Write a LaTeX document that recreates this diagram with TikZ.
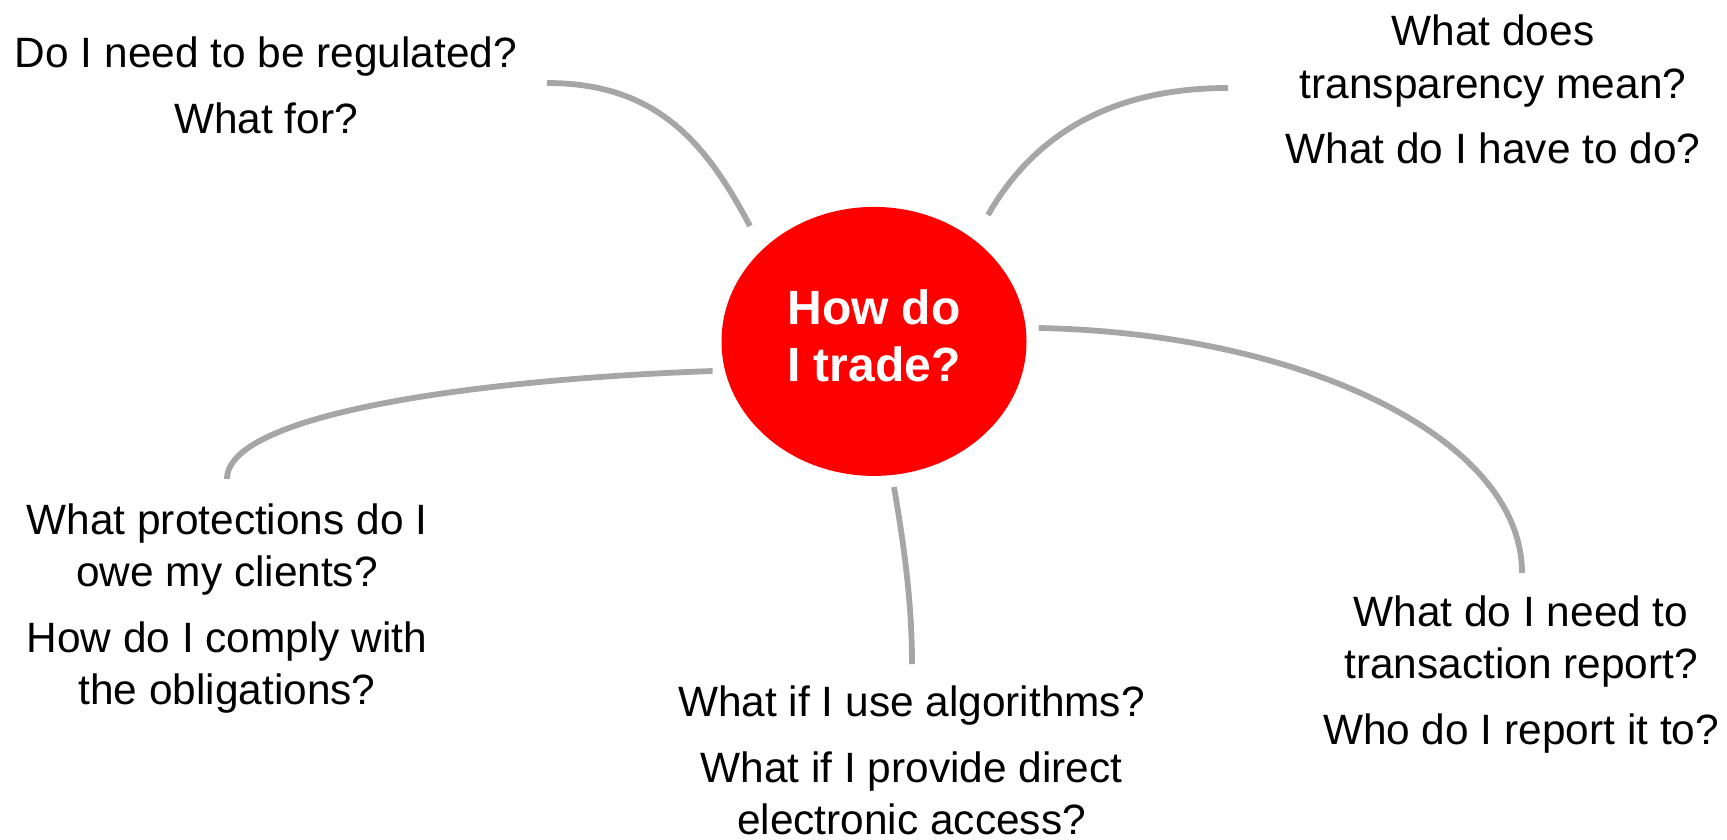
\documentclass[tikz,border=0pt]{standalone}
\usepackage{fontspec}
\setmainfont{Liberation Sans}
\usetikzlibrary{shapes.geometric}
\definecolor{hubred}{RGB}{255,0,0}
\definecolor{linkgray}{RGB}{166,166,166}
\begin{document}
\begin{tikzpicture}[x=1pt,y=-1pt,
  q/.style={font=\fontsize{42.4}{52}\selectfont, align=center, inner sep=0pt, text=black},
  hubnode/.style={ellipse, fill=hubred, minimum width=305pt, minimum height=269pt,
    inner sep=0pt, text=white, font=\fontsize{48}{57}\selectfont\bfseries, align=center},
  link/.style={draw=linkgray, line width=5.8pt, line cap=butt}]
\useasboundingbox (0,0) rectangle (1727,840);

% hub
\node[hubnode] (hub) at (874,341.4) {\strut How do\\\strut I trade?};

% question groups
\node[q] (tl) at (266,90.1) {\strut Do I need to be regulated?\\[14pt]\strut What for?};
\node[q] (tr) at (1493,94.6) {\strut What does\\\strut transparency mean?\\[14pt]\strut What do I have to do?};
\node[q] (lf) at (227,608.9) {\strut What protections do I\\\strut owe my clients?\\[14pt]\strut How do I comply with\\\strut the obligations?};
\node[q] (bt) at (911.5,765) {\strut What if I use algorithms?\\[14pt]\strut What if I provide direct\\\strut electronic access?};
\node[q] (br) at (1521,674.6) {\strut What do I need to\\\strut transaction report?\\[14pt]\strut Who do I report it to?};

% connector end points
\coordinate (hub-tl) at (750,226);
\coordinate (tl-end) at (547,83);
\coordinate (hub-tr) at (988,215);
\coordinate (tr-end) at (1228,88);
\coordinate (hub-br) at (1038.6,328);
\coordinate (br-end) at (1522,573);
\coordinate (hub-lf) at (712.6,371);
\coordinate (lf-end) at (227,479);
\coordinate (hub-bt) at (894,487);
\coordinate (bt-end) at (912,664);

% connectors
\draw[link] (hub-tl) .. controls (706,143) and (657,83) .. (tl-end);
\draw[link] (hub-tr) .. controls (1032,138) and (1107,88) .. (tr-end);
\draw[link] (hub-br) .. controls (1300,333) and (1522,437) .. (br-end);
\draw[link] (hub-lf) .. controls (462.6,380) and (227,416) .. (lf-end);
\draw[link] (hub-bt) .. controls (905,551) and (912,606) .. (bt-end);
\end{tikzpicture}
\end{document}
